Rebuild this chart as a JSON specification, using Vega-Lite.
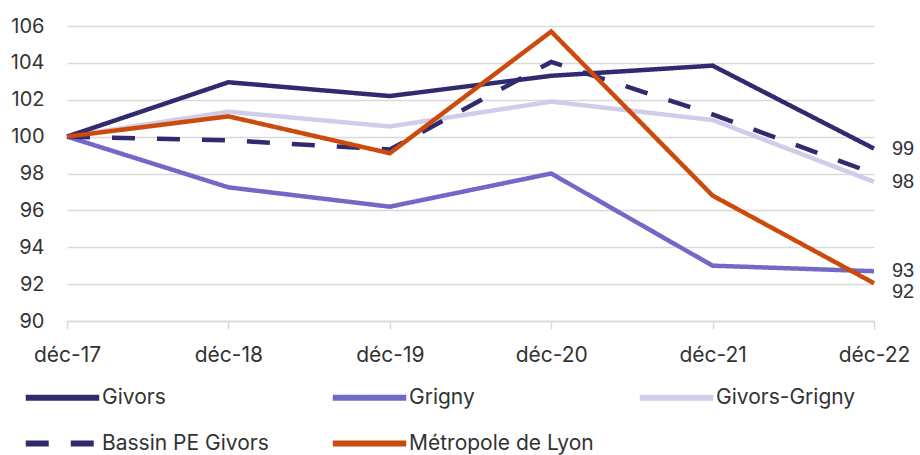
{
  "$schema": "https://vega.github.io/schema/vega-lite/v6.json",
  "width": 807,
  "height": 295,
  "autosize": {"type": "none"},
  "padding": {"left": 67, "top": 26, "right": 46, "bottom": 134},
  "background": "white",
  "config": {
    "view": {"stroke": null},
    "font": "Inter",
    "axis": {"labelFont": "Inter", "labelColor": "#333333"}
  },
  "datasets": {
    "series": [
      {"date": "déc-17", "serie": "Givors-Grigny", "value": 100},
      {"date": "déc-18", "serie": "Givors-Grigny", "value": 101.35},
      {"date": "déc-19", "serie": "Givors-Grigny", "value": 100.55},
      {"date": "déc-20", "serie": "Givors-Grigny", "value": 101.9},
      {"date": "déc-21", "serie": "Givors-Grigny", "value": 100.9},
      {"date": "déc-22", "serie": "Givors-Grigny", "value": 97.55},
      {"date": "déc-17", "serie": "Grigny", "value": 100},
      {"date": "déc-18", "serie": "Grigny", "value": 97.25},
      {"date": "déc-19", "serie": "Grigny", "value": 96.2},
      {"date": "déc-20", "serie": "Grigny", "value": 98.0},
      {"date": "déc-21", "serie": "Grigny", "value": 93.0},
      {"date": "déc-22", "serie": "Grigny", "value": 92.7},
      {"date": "déc-17", "serie": "Givors", "value": 100},
      {"date": "déc-18", "serie": "Givors", "value": 102.95},
      {"date": "déc-19", "serie": "Givors", "value": 102.2},
      {"date": "déc-20", "serie": "Givors", "value": 103.3},
      {"date": "déc-21", "serie": "Givors", "value": 103.85},
      {"date": "déc-22", "serie": "Givors", "value": 99.35},
      {"date": "déc-17", "serie": "Bassin PE Givors", "value": 100},
      {"date": "déc-18", "serie": "Bassin PE Givors", "value": 99.8},
      {"date": "déc-19", "serie": "Bassin PE Givors", "value": 99.3},
      {"date": "déc-20", "serie": "Bassin PE Givors", "value": 104.05},
      {"date": "déc-21", "serie": "Bassin PE Givors", "value": 101.2},
      {"date": "déc-22", "serie": "Bassin PE Givors", "value": 98.0},
      {"date": "déc-17", "serie": "Métropole de Lyon", "value": 100},
      {"date": "déc-18", "serie": "Métropole de Lyon", "value": 101.1},
      {"date": "déc-19", "serie": "Métropole de Lyon", "value": 99.1},
      {"date": "déc-20", "serie": "Métropole de Lyon", "value": 105.7},
      {"date": "déc-21", "serie": "Métropole de Lyon", "value": 96.8},
      {"date": "déc-22", "serie": "Métropole de Lyon", "value": 92.05}
    ],
    "labels": [
      {"date": "déc-22", "serie": "Givors", "value": 99.35, "label": "99"},
      {"date": "déc-22", "serie": "Givors-Grigny", "value": 97.55, "label": "98"},
      {"date": "déc-22", "serie": "Grigny", "value": 92.7, "label": "93"}
    ],
    "labelsLow": [
      {"date": "déc-22", "serie": "Métropole de Lyon", "value": 92.05, "label": "92"}
    ]
  },
  "encoding": {
    "x": {
      "field": "date", "type": "ordinal", "sort": null,
      "scale": {"type": "point", "padding": 0},
      "axis": {
        "title": null, "labelAngle": 0, "labelFontSize": 21, "labelColor": "#333333",
        "domainColor": "#d9d9d9", "domainWidth": 1.5, "tickColor": "#d9d9d9", "tickWidth": 1.5,
        "tickSize": 8, "labelPadding": 15, "grid": false, "labelOverlap": false
      }
    },
    "y": {
      "field": "value", "type": "quantitative",
      "scale": {"domain": [90, 106], "nice": false, "zero": false},
      "axis": {
        "title": null, "values": [90, 92, 94, 96, 98, 100, 102, 104, 106],
        "labelFontSize": 20, "labelColor": "#333333", "domain": false, "ticks": false,
        "labelPadding": 23, "gridColor": "#d9d9d9", "gridWidth": 1.5, "labelOverlap": false
      }
    }
  },
  "layer": [
    {
      "data": {"name": "series"},
      "mark": {"type": "line", "strokeWidth": 4.5, "strokeCap": "butt", "strokeJoin": "miter"},
      "encoding": {
        "color": {
          "field": "serie", "type": "nominal",
          "scale": {
            "domain": ["Givors", "Grigny", "Givors-Grigny", "Bassin PE Givors", "Métropole de Lyon"],
            "range": ["#302a6f", "#7268c7", "#d0cce9", "#302a6f", "#cc4a0c"]
          },
          "legend": {
            "title": null, "orient": "none", "legendX": -15, "legendY": 361,
            "direction": "horizontal", "columns": 3, "gridAlign": "all",
            "columnPadding": 33, "rowPadding": 21,
            "symbolType": "M -5 0 H 5", "symbolSize": 216, "symbolStrokeWidth": 6,
            "labelFontSize": 21, "labelColor": "#333333", "labelOffset": 29, "labelLimit": 300
          }
        },
        "strokeDash": {
          "field": "serie", "type": "nominal",
          "scale": {
            "domain": ["Givors", "Grigny", "Givors-Grigny", "Bassin PE Givors", "Métropole de Lyon"],
            "range": [[1, 0], [1, 0], [1, 0], [23, 22], [1, 0]]
          },
          "legend": {
            "title": null, "orient": "none", "legendX": -15, "legendY": 361,
            "direction": "horizontal", "columns": 3, "gridAlign": "all",
            "columnPadding": 33, "rowPadding": 21,
            "symbolType": "M -5 0 H 5", "symbolSize": 216, "symbolStrokeWidth": 6,
            "labelFontSize": 21, "labelColor": "#333333", "labelOffset": 29, "labelLimit": 300
          }
        }
      }
    },
    {
      "data": {"name": "labels"},
      "mark": {"type": "text", "align": "left", "baseline": "middle", "dx": 18, "font": "Liberation Sans", "fontSize": 20, "color": "#333333"},
      "encoding": {
        "text": {"field": "label"}
      }
    },
    {
      "data": {"name": "labelsLow"},
      "mark": {"type": "text", "align": "left", "baseline": "middle", "dx": 18, "dy": 9, "font": "Liberation Sans", "fontSize": 20, "color": "#333333"},
      "encoding": {
        "text": {"field": "label"}
      }
    }
  ]
}
